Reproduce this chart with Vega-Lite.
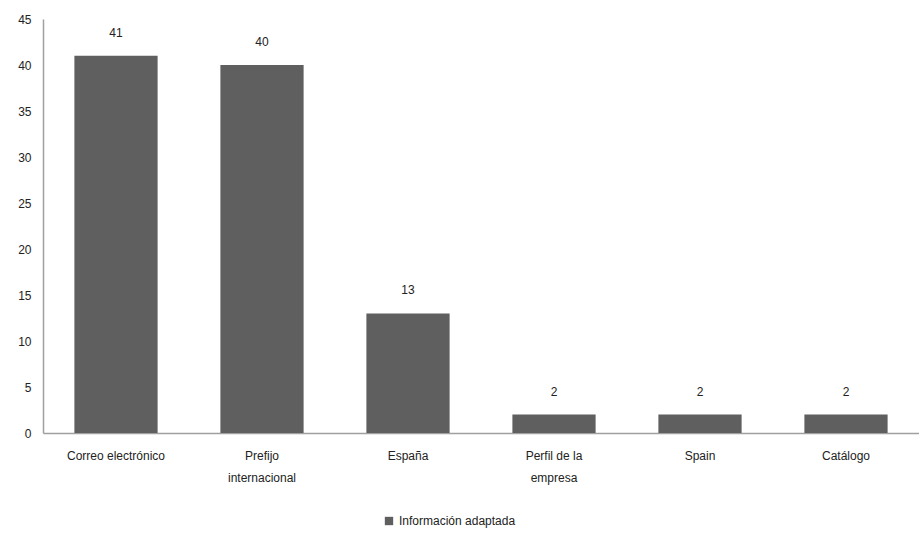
{
  "$schema": "https://vega.github.io/schema/vega-lite/v6.json",
  "width": 876,
  "height": 414,
  "padding": {"left": 17, "top": 13, "right": 0, "bottom": 5},
  "background": "white",
  "config": {
    "view": {"stroke": null},
    "font": "Liberation Sans",
    "axis": {"labelFont": "Liberation Sans", "labelFontSize": 12, "labelColor": "#222222", "domainColor": "#a0a0a0", "domainWidth": 1.5, "ticks": false, "grid": false, "title": null}
  },
  "data": {
    "values": [
      {"categoria": "Correo electrónico", "valor": 41, "serie": "Información adaptada"},
      {"categoria": "Prefijo internacional", "valor": 40, "serie": "Información adaptada"},
      {"categoria": "España", "valor": 13, "serie": "Información adaptada"},
      {"categoria": "Perfil de la empresa", "valor": 2, "serie": "Información adaptada"},
      {"categoria": "Spain", "valor": 2, "serie": "Información adaptada"},
      {"categoria": "Catálogo", "valor": 2, "serie": "Información adaptada"}
    ]
  },
  "encoding": {
    "x": {
      "field": "categoria",
      "type": "nominal",
      "sort": null,
      "scale": {"paddingInner": 0.43, "paddingOuter": 0.215},
      "axis": {
        "labelAngle": 0,
        "labelPadding": 17,
        "labelLineHeight": 22,
        "labelExpr": "datum.value == 'Prefijo internacional' ? ['Prefijo', 'internacional'] : datum.value == 'Perfil de la empresa' ? ['Perfil de la', 'empresa'] : datum.value"
      }
    },
    "y": {
      "field": "valor",
      "type": "quantitative",
      "scale": {"domain": [0, 45]},
      "axis": {"values": [0, 5, 10, 15, 20, 25, 30, 35, 40, 45], "labelPadding": 12}
    }
  },
  "layer": [
    {
      "mark": {"type": "bar"},
      "encoding": {
        "color": {
          "field": "serie",
          "type": "nominal",
          "scale": {"range": ["#5f5f5f"]},
          "legend": {
            "title": null,
            "orient": "none",
            "legendX": 340,
            "legendY": 496,
            "direction": "horizontal",
            "symbolType": "square",
            "symbolSize": 70,
            "labelFontSize": 12,
            "labelFont": "Liberation Sans",
            "labelColor": "#222222"
          }
        }
      }
    },
    {
      "mark": {"type": "text", "baseline": "bottom", "dy": -16, "fontSize": 12, "font": "Liberation Sans", "color": "#222222"},
      "encoding": {"text": {"field": "valor", "type": "quantitative"}}
    }
  ]
}
